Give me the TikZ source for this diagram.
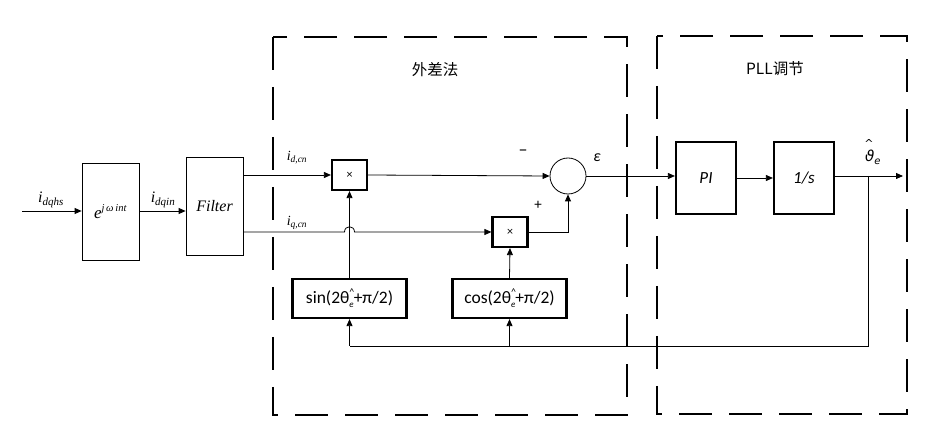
\documentclass[tikz,border=0pt]{standalone}
\usepackage{fontspec}
\setmainfont{Liberation Serif}
\newfontfamily\cjk{Noto Sans CJK SC}
\newfontfamily\calib{Carlito}
\newfontfamily\djv{DejaVu Sans}
\usetikzlibrary{arrows.meta}
\begin{document}
\begin{tikzpicture}[x=1pt,y=-1pt,
  conn/.style={line width=0.8pt},
  arr/.style={conn,-{Triangle[length=7pt,width=6pt]}},
  thinbox/.style={draw,line width=0.8pt,minimum width=57pt,minimum height=97pt,inner sep=0pt},
  mulbox/.style={draw,line width=2.2pt,minimum width=35pt,minimum height=30pt,inner sep=0pt,font=\calib\fontsize{12}{12}\selectfont},
  funbox/.style={draw,line width=2.2pt,minimum width=114pt,minimum height=39pt,inner sep=0pt,font=\calib\fontsize{17.5}{18}\selectfont},
  pllbox/.style={draw,line width=2.2pt,minimum width=60pt,minimum height=72pt,inner sep=0pt,font=\calib\itshape\fontsize{17}{18}\selectfont},
  region/.style={draw,line width=2.6pt,dash pattern=on 33pt off 17pt},
  lbl/.style={inner sep=0pt,font=\fontsize{14}{16}\selectfont},
  sgn/.style={inner sep=0pt,font=\calib\fontsize{15}{16}\selectfont}]
\useasboundingbox (0,0) rectangle (927,430);
% regions
\draw[region] (273,37) rectangle (627,415);
\draw[region] (657,36) rectangle (907,414);
\node[inner sep=0pt,font=\cjk\fontsize{15.5}{16}\selectfont] (t1) at (435,70) {外差法};
\node[inner sep=0pt,font=\cjk\fontsize{15.5}{16}\selectfont] (t2) at (775,69) {PLL调节};
% blocks
\coordinate (in) at (22,211);
\node[thinbox] (ebox) at (110.5,211.5) {\fontsize{17}{18}\selectfont\itshape e\textsuperscript{\fontsize{10.5}{11}\selectfont j\,ω\,int}};
\node[thinbox,minimum height=98pt] (filter) at (214.5,206) {\fontsize{16}{18}\selectfont\itshape Filter};
\node[mulbox] (m1) at (349.5,175) {×};
\node[mulbox] (m2) at (510,232) {×};
\node[draw,circle,line width=0.8pt,minimum size=36pt,inner sep=0pt] (sum) at (568,176) {};
\node[funbox] (sin) at (349.5,298.5) {sin(2θ\rlap{\raisebox{0.45em}{\fontsize{10}{10}\selectfont\textasciicircum}}\raisebox{-0.25em}{\fontsize{9}{9}\selectfont\itshape e}+π/2)};
\node[funbox] (cos) at (509.5,298.5) {cos(2θ\rlap{\raisebox{0.45em}{\fontsize{10}{10}\selectfont\textasciicircum}}\raisebox{-0.25em}{\fontsize{9}{9}\selectfont\itshape e}+π/2)};
\node[pllbox] (pi) at (706,178) {PI};
\node[pllbox] (int) at (804,178) {1/s};
\coordinate (out) at (903,176);
\coordinate (br) at (868,176);
\coordinate (fb) at (868,346);
% labels
\node[lbl,font=\fontsize{16}{18}\selectfont] (l1) at (51,200) {\itshape i\textsubscript{\fontsize{11}{11}\selectfont dqhs}};
\node[lbl,font=\fontsize{16}{18}\selectfont] (l2) at (163,200) {\itshape i\textsubscript{\fontsize{11}{11}\selectfont dqin}};
\node[lbl] (l3) at (297,158) {\itshape i\textsubscript{\fontsize{9.5}{10}\selectfont d,cn}};
\node[lbl] (l4) at (297,223) {\itshape i\textsubscript{\fontsize{9.5}{10}\selectfont q,cn}};
\node[sgn,font=\calib\fontsize{18}{18}\selectfont] (minus) at (523,153) {–};
\node[sgn] (plus) at (538,205) {+};
\node[inner sep=0pt,font=\calib\itshape\fontsize{16}{16}\selectfont] (eps) at (597,158) {ε};
\node[inner sep=0pt,font=\djv\fontsize{11}{11}\selectfont] (hat) at (869,143) {\textasciicircum};
\node[inner sep=0pt,font=\djv\itshape\fontsize{15}{16}\selectfont,anchor=base] (th) at (873,162) {ϑ\textsubscript{\fontsize{10}{10}\selectfont e}};
% connectors
\draw[arr] (in) -- (ebox.west |- in);
\draw[arr] (ebox.east |- in) -- (filter.west |- in);
\draw[arr] (filter.east |- m1) -- (m1.west);
\coordinate (jmp) at (sin.north |- m2.west);
\draw[arr] (filter.east |- m2) -- ([xshift=-5pt]jmp) .. controls ([xshift=-5pt,yshift=7pt]jmp) and ([xshift=5pt,yshift=7pt]jmp) .. ([xshift=5pt]jmp) -- (m2.west);
\draw[arr] (m1.east) -- (sum.west);
\draw[arr] (m2.east) -- (sum.south |- m2.east) -- (sum.south);
\draw[arr] (sin.north) -- (m1.south);
\draw[arr] (cos.north) -- (m2.south);
\draw[arr] (sum.east) -- (pi.west |- sum.east);
\draw[arr] (pi.east |- int) -- (int.west);
\draw[arr] (int.east |- out) -- (out);
\draw[conn] (br) -- (fb) -- (sin.south |- fb);
\draw[arr] (sin.south |- fb) -- (sin.south);
\draw[arr] (cos.south |- fb) -- (cos.south);
\end{tikzpicture}
\end{document}
